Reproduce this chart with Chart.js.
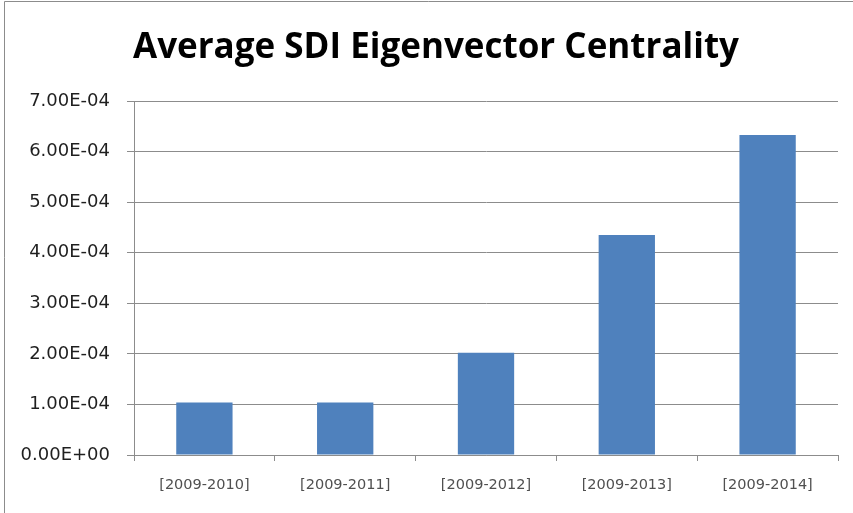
<!DOCTYPE html>
<html>
<head>
<meta charset="utf-8">
<script src="https://cdn.jsdelivr.net/npm/chart.js@4/dist/chart.umd.min.js"></script>
<style>
  html, body { margin: 0; padding: 0; background: #ffffff; }
  #wrap { position: relative; width: 853px; height: 513px; }
</style>
</head>
<body>
<div id="wrap"><canvas id="chart" width="853" height="513"></canvas></div>
<script>
// Periods and their average SDI eigenvector centrality
const categories = ['[2009-2010]', '[2009-2011]', '[2009-2012]', '[2009-2013]', '[2009-2014]'];
const centrality = [1.04e-4, 1.04e-4, 2.02e-4, 4.35e-4, 6.33e-4];
const yMin = 0;
const yMax = 7e-4;
const yStep = 1e-4;

// Spreadsheet-style scientific notation, e.g. 7.00E-04, 0.00E+00
function sci(v) {
  if (Math.abs(v) < 1e-12) return '0.00E+00';
  let exp = Math.floor(Math.log10(Math.abs(v)) + 1e-9);
  let mant = v / Math.pow(10, exp);
  let m = mant.toFixed(2);
  if (m === '10.00') { m = '1.00'; exp += 1; }
  const sign = exp < 0 ? '-' : '+';
  const e = String(Math.abs(exp)).padStart(2, '0');
  return m + 'E' + sign + e;
}

// Thin frame around the chart object
const framePlugin = {
  id: 'frame',
  beforeDraw(chart) {
    const ctx = chart.ctx;
    ctx.save();
    ctx.fillStyle = '#ffffff';
    ctx.fillRect(0, 0, chart.width, chart.height);
    ctx.strokeStyle = '#8c8c8c';
    ctx.lineWidth = 1;
    ctx.beginPath();
    ctx.moveTo(4.5, chart.height);
    ctx.lineTo(4.5, 1.5);
    ctx.lineTo(chart.width, 1.5);
    ctx.stroke();
    ctx.restore();
  }
};

// Centre the title over the frame rather than the whole canvas
const titleShift = {
  id: 'titleShift',
  afterLayout(chart) {
    const t = chart.titleBlock;
    if (t) { t.left += 29; }
  }
};

new Chart(document.getElementById('chart'), {
  type: 'bar',
  data: {
    labels: categories,
    datasets: [{
      data: centrality,
      backgroundColor: '#4f81bd',
      borderWidth: 0,
      barPercentage: 0.4,
      categoryPercentage: 1.0
    }]
  },
  plugins: [framePlugin, titleShift],
  options: {
    responsive: false,
    animation: false,
    devicePixelRatio: 1,
    layout: { padding: { left: 5, right: 15, top: 0, bottom: 0 } },
    plugins: {
      legend: { display: false },
      tooltip: { enabled: false },
      title: {
        display: true,
        text: 'Average SDI Eigenvector Centrality',
        color: '#000000',
        font: { family: 'Open Sans', size: 35, weight: 'bold', lineHeight: 1.2 },
        padding: { top: 27, bottom: 32 }
      }
    },
    scales: {
      x: {
        offset: true,
        afterFit(scale) { scale.height = 58; },
        grid: {
          display: true,
          offset: true,
          drawOnChartArea: false,
          drawTicks: true,
          tickLength: 6,
          color: '#8c8c8c'
        },
        border: { display: true, color: '#8c8c8c', width: 1 },
        ticks: {
          color: '#505050',
          font: { family: 'DejaVu Sans', size: 14.5 },
          padding: 16,
          maxRotation: 0,
          autoSkip: false
        }
      },
      y: {
        min: yMin,
        max: yMax,
        afterFit(scale) { scale.width = 129; },
        grid: {
          color: '#8c8c8c',
          lineWidth: 1,
          drawTicks: true,
          tickLength: 7
        },
        border: { display: true, color: '#8c8c8c', width: 1 },
        ticks: {
          stepSize: yStep,
          color: '#1f1f1f',
          font: { family: 'DejaVu Sans', size: 18 },
          padding: 17,
          callback: (v) => sci(v)
        }
      }
    }
  }
});
</script>
</body>
</html>
